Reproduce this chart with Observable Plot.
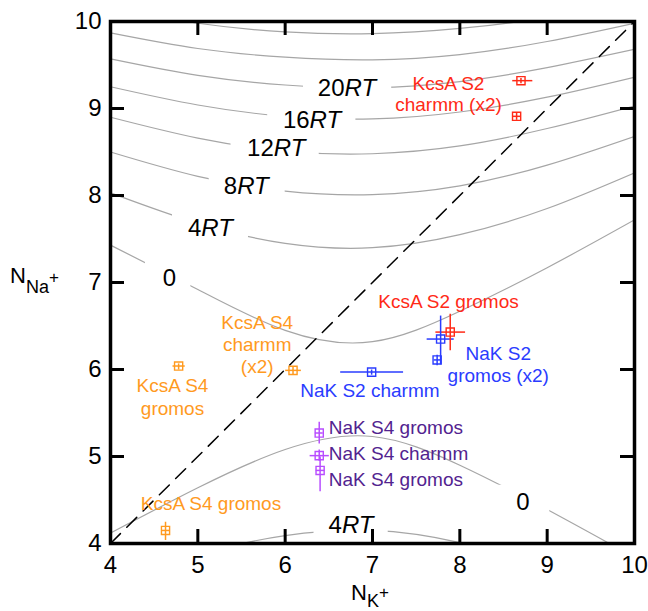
<!DOCTYPE html>
<html><head><meta charset="utf-8">
<script src="https://cdn.jsdelivr.net/npm/d3@7"></script>
<script src="https://cdn.jsdelivr.net/npm/@observablehq/plot@0.6"></script>
<style>body{margin:0;background:#fff;} svg{display:block;}</style>
</head><body><div id="chart"></div>
<script>
// ---- axes ----
const xTicks = [4, 5, 6, 7, 8, 9, 10];
const yTicks = [4, 5, 6, 7, 8, 9, 10];
const diagonal = [4, 10];

// ---- free-energy contour lines ----
const contourX = [4, 5, 6, 7, 8, 9, 10];
const upper0  = [7.43, 6.92, 6.45, 6.32, 6.67, 7.17, 7.72];
const upper4  = [8.03, 7.68, 7.45, 7.40, 7.55, 7.85, 8.26];
const upper8  = [8.50, 8.22, 8.05, 8.01, 8.11, 8.35, 8.68];
const upper12 = [8.90, 8.66, 8.51, 8.48, 8.57, 8.77, 9.03];
const upper16 = [9.25, 9.04, 8.91, 8.88, 8.96, 9.13, 9.36];
const upper20 = [9.57, 9.38, 9.27, 9.24, 9.31, 9.47, 9.68];
const upper24 = [9.87, 9.69, 9.59, 9.56, 9.62, 9.77, 9.98];
const upper28 = [10.15, 9.98, 9.88, 9.86, 9.92, 10.05, 10.26];
const lower0  = [4.12, 4.64, 5.08, 5.23, 4.90, 4.39, 3.84];
const lower4  = [3.52, 3.87, 4.09, 4.15, 4.01, 3.71, 3.31];

// ---- contour labels ----
const cLabelNum  = ["20", "16", "12", "8", "4", "0", "0", "4"];
const cLabelUnit = ["RT", "RT", "RT", "RT", "RT", "", "", "RT"];
const cLabelX    = [6.68, 6.28, 5.87, 5.45, 5.04, 4.75, 8.80, 6.65];
const cLabelY    = [9.23, 8.86, 8.54, 8.10, 7.62, 7.05, 4.47, 4.21];
const cGapLo     = [6.21, 5.80, 5.38, 5.13, 4.71, 4.40, 8.42, 6.33];
const cGapHi     = [7.22, 6.81, 6.39, 6.00, 5.58, 4.92, 9.03, 7.18];

// ---- simulation points ----
const ptGroup = ["KcsA S2","KcsA S2","KcsA S2","NaK S2","NaK S2","NaK S2","KcsA S4","KcsA S4","KcsA S4","NaK S4","NaK S4","NaK S4"];
const ptX   = [8.70, 8.65, 7.89, 7.78, 7.74, 6.99, 4.78, 6.09, 4.63, 6.39, 6.39, 6.40];
const ptY   = [9.32, 8.91, 6.43, 6.35, 6.11, 5.97, 6.04, 5.99, 4.15, 5.27, 5.01, 4.84];
const ptXlo = [8.60, 8.60, 7.72, 7.62, 7.70, 6.63, 4.71, 6.00, 4.58, 6.34, 6.28, 6.35];
const ptXhi = [8.83, 8.70, 8.06, 7.93, 7.78, 7.35, 4.85, 6.18, 4.68, 6.43, 6.50, 6.45];
const ptYlo = [9.29, 8.87, 6.22, 6.06, 6.05, 5.94, 6.00, 5.94, 4.04, 5.15, 4.95, 4.60];
const ptYhi = [9.35, 8.95, 6.64, 6.62, 6.17, 6.00, 6.07, 6.03, 4.25, 5.40, 5.08, 5.00];

// ---- point labels ----
const lblText  = ["KcsA S2","charmm (x2)","KcsA S2 gromos","NaK S2","gromos (x2)","NaK S2 charmm","KcsA S4","charmm","(x2)","KcsA S4","gromos","NaK S4 gromos","NaK S4 charmm","NaK S4 gromos","KcsA S4 gromos"];
const lblGroup = ["KcsA S2","KcsA S2","KcsA S2","NaK S2","NaK S2","NaK S2","KcsA S4","KcsA S4","KcsA S4","KcsA S4","KcsA S4","NaK S4","NaK S4","NaK S4","KcsA S4"];
const lblX     = [7.87, 7.87, 7.87, 8.44, 8.44, 6.97, 5.68, 5.68, 5.68, 4.71, 4.71, 6.50, 6.50, 6.50, 5.15];
const lblY     = [9.28, 9.04, 6.78, 6.18, 5.93, 5.75, 6.53, 6.28, 6.03, 5.81, 5.55, 5.33, 5.03, 4.73, 4.45];

// ---- styles ----
const markerColor = {"KcsA S2": "#ff2a17", "NaK S2": "#2a3cff", "KcsA S4": "#ff9a1f", "NaK S4": "#b84dff"};
const textColor   = {"KcsA S2": "#ff2a17", "NaK S2": "#2a3cff", "KcsA S4": "#ff9a1f", "NaK S4": "#52238f"};
const FONT = "'Liberation Sans', Arial, Helvetica, sans-serif";

// ---- build tables ----
const contourSets = {upper0, upper4, upper8, upper12, upper16, upper20, upper24, upper28, lower0, lower4};
const contourPts = Object.entries(contourSets).flatMap(([id, ys]) =>
  ys.map((y, i) => ({id, x: contourX[i], y})));
const cLabels = cLabelNum.map((n, i) => ({num: n, unit: cLabelUnit[i], x: cLabelX[i], y: cLabelY[i], lo: cGapLo[i], hi: cGapHi[i]}));
const points = ptX.map((x, i) => ({g: ptGroup[i], x, y: ptY[i], xlo: ptXlo[i], xhi: ptXhi[i], ylo: ptYlo[i], yhi: ptYhi[i]}));
const labels = lblText.map((t, i) => ({t, g: lblGroup[i], x: lblX[i], y: lblY[i]}));

const W = 648, H = 611, mL = 110, mR = 14, mT = 21, mB = 68;
const fw = W - mL - mR, fh = H - mT - mB, tick = 14;

const chart = Plot.plot({
  width: W, height: H,
  marginLeft: mL, marginRight: mR, marginTop: mT, marginBottom: mB,
  style: {fontFamily: FONT, background: "white", overflow: "visible"},
  x: {domain: [4, 10]},
  y: {domain: [4, 10]},
  marks: [
    Plot.line(contourPts, {x: "x", y: "y", z: "id", curve: "natural", stroke: "#a6a6a6", strokeWidth: 1.2, clip: true}),
    Plot.rect(cLabels, {x1: "lo", x2: "hi", y1: d => d.y - 0.2, y2: d => d.y + 0.2, fill: "white", clip: true}),
    Plot.text(cLabels, {x: "x", y: "y", text: "num", textAnchor: "end", fontSize: 24, fill: "black"}),
    Plot.text(cLabels, {x: "x", y: "y", text: "unit", textAnchor: "start", fontSize: 24, fontStyle: "italic", fill: "black"}),
    Plot.line(diagonal, {x: d => d, y: d => d, stroke: "black", strokeWidth: 1.5, strokeDasharray: "14,9"}),
    Plot.link(points, {x1: "xlo", x2: "xhi", y1: "y", y2: "y", stroke: d => markerColor[d.g], strokeWidth: 1.5}),
    Plot.link(points, {x1: "x", x2: "x", y1: "ylo", y2: "yhi", stroke: d => markerColor[d.g], strokeWidth: 1.5}),
    Plot.dot(points, {x: "x", y: "y", symbol: "square", r: 4.6, stroke: d => markerColor[d.g], fill: "none", strokeWidth: 1.4}),
    Plot.text(labels.filter(d => d.g !== "NaK S4"), {x: "x", y: "y", text: "t", fill: d => textColor[d.g], fontSize: 19, textAnchor: "middle"}),
    Plot.text(labels.filter(d => d.g === "NaK S4"), {x: "x", y: "y", text: "t", fill: d => textColor[d.g], fontSize: 19, textAnchor: "start"}),
    Plot.ruleX(xTicks, {x: d => d, insetTop: fh - tick, stroke: "black", strokeWidth: 3}),
    Plot.ruleX(xTicks, {x: d => d, insetBottom: fh - tick, stroke: "black", strokeWidth: 3}),
    Plot.ruleY(yTicks, {y: d => d, insetRight: fw - tick, stroke: "black", strokeWidth: 3}),
    Plot.ruleY(yTicks, {y: d => d, insetLeft: fw - tick, stroke: "black", strokeWidth: 3}),
    Plot.frame({stroke: "black", strokeWidth: 3.5}),
    Plot.axisX(xTicks, {tickSize: 0, tickPadding: 12, fontSize: 24, label: null, fill: "black", tickFormat: d3.format("d")}),
    Plot.axisY(yTicks, {tickSize: 0, tickPadding: 9, fontSize: 24, label: null, fill: "black", tickFormat: d3.format("d")})
  ]
});
document.getElementById("chart").appendChild(chart);

// axis titles with sub/superscripts
const svg = d3.select(chart);
const xt = svg.append("text").attr("x", 351).attr("y", 600).attr("text-anchor", "start").attr("font-size", 22).attr("font-family", FONT).attr("fill", "black");
xt.append("tspan").text("N");
xt.append("tspan").attr("font-size", 18).attr("dy", 7).text("K");
xt.append("tspan").attr("font-size", 17).attr("dy", -9).text("+");
const yt = svg.append("text").attr("x", 10).attr("y", 283).attr("text-anchor", "start").attr("font-size", 22).attr("font-family", FONT).attr("fill", "black");
yt.append("tspan").text("N");
yt.append("tspan").attr("font-size", 18).attr("dy", 10).text("Na");
yt.append("tspan").attr("font-size", 17).attr("dy", -10).text("+");
</script></body></html>
